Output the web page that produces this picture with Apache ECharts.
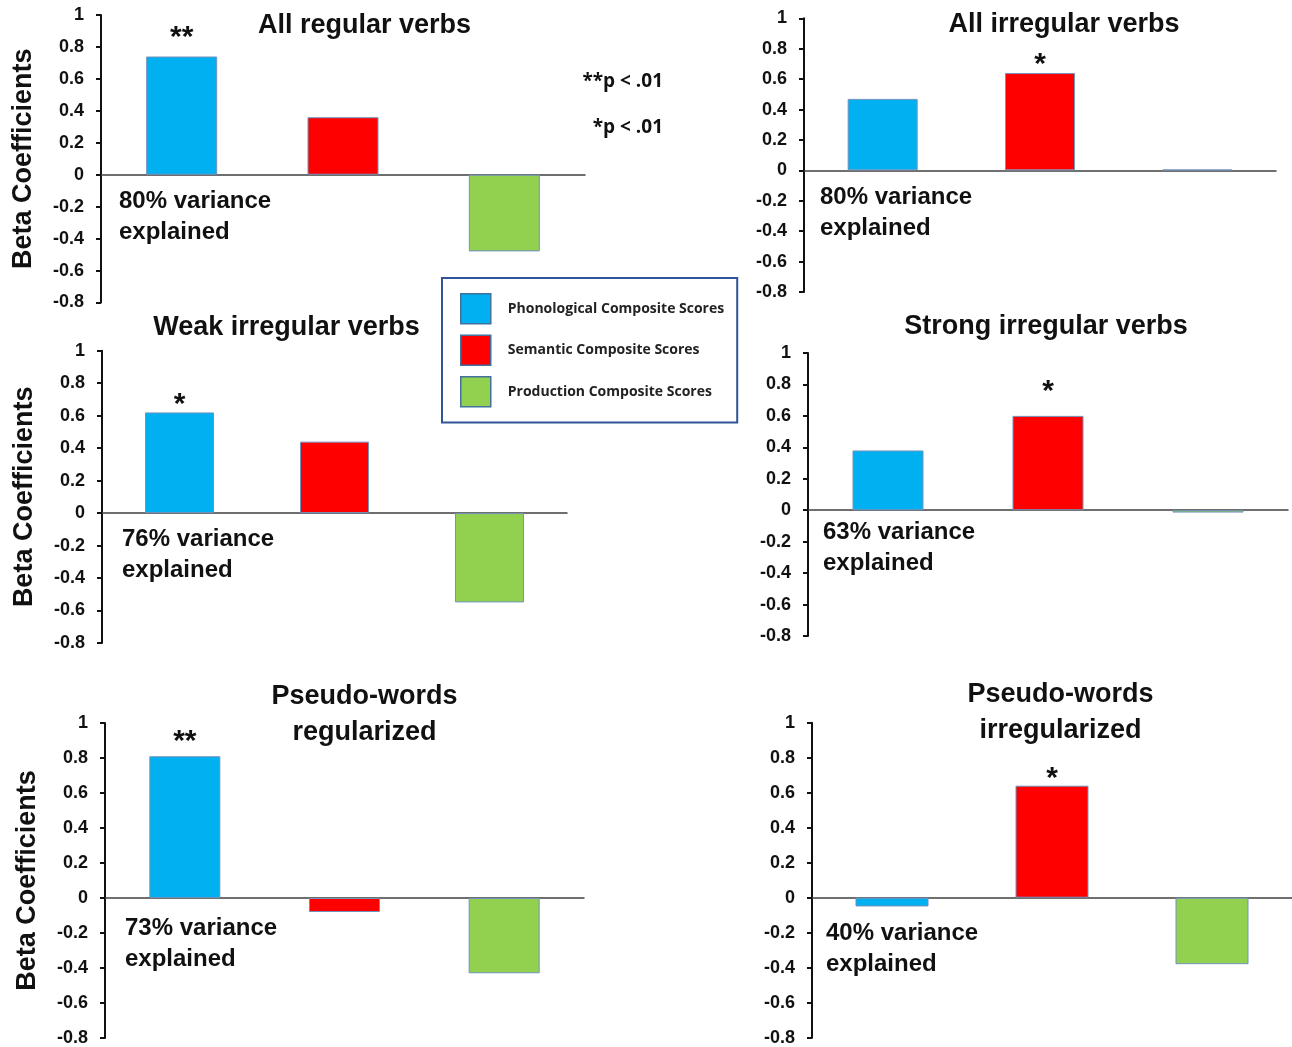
<!DOCTYPE html>
<html>
<head>
<meta charset="utf-8">
<script src="https://cdn.jsdelivr.net/npm/echarts@6/dist/echarts.min.js"></script>
<style>
  html, body { margin: 0; padding: 0; background: #fff; }
  #chart { width: 1292px; height: 1047px; }
</style>
</head>
<body>
<div id="chart"></div>
<script>
// ---------- data ----------
const categories = ['Phonological Composite Scores', 'Semantic Composite Scores', 'Production Composite Scores'];
const panelTitles = ['All regular verbs', 'All irregular verbs', 'Weak irregular verbs', 'Strong irregular verbs', 'Pseudo-words\nregularized', 'Pseudo-words\nirregularized'];
const allRegular          = [0.74, 0.36, -0.48];
const allIrregular        = [0.47, 0.64, 0.005];
const weakIrregular       = [0.62, 0.44, -0.55];
const strongIrregular     = [0.38, 0.60, -0.015];
const pseudoRegularized   = [0.81, -0.08, -0.43];
const pseudoIrregularized = [-0.05, 0.64, -0.38];
const allRegularSig          = ['**', '', ''];
const allIrregularSig        = ['', '*', ''];
const weakIrregularSig       = ['*', '', ''];
const strongIrregularSig     = ['', '*', ''];
const pseudoRegularizedSig   = ['**', '', ''];
const pseudoIrregularizedSig = ['', '*', ''];
const varianceExplained = ['80%', '80%', '76%', '63%', '73%', '40%'];
const pValueNotes = ['**p < .01', '*p < .01'];
const yMin = -0.8, yMax = 1, yInterval = 0.2;

const panelValues = [allRegular, allIrregular, weakIrregular, strongIrregular, pseudoRegularized, pseudoIrregularized];
const panelSig = [allRegularSig, allIrregularSig, weakIrregularSig, strongIrregularSig, pseudoRegularizedSig, pseudoIrregularizedSig];

// ---------- layout / style ----------
const colors = ['#00B0F0', '#FF0000', '#92D050'];
const layout = [
  { left: 101, top: 15,    width: 484, height: 287.5, bw: 71, title: [364.5, 26],  tlh: 36, varXY: [119, 217],  star: -4, yName: true },
  { left: 804, top: 18.3,  width: 472, height: 273.7, bw: 70, title: [1064, 25],   tlh: 36, varXY: [820, 213],  star: 7,  yName: false },
  { left: 102, top: 350.7, width: 465, height: 292.3, bw: 69, title: [286.5, 328], tlh: 36, varXY: [122, 555],  star: 7,  yName: true },
  { left: 808, top: 353,   width: 480, height: 283,   bw: 71, title: [1046, 327],  tlh: 36, varXY: [823, 548],  star: -9, yName: false },
  { left: 105, top: 723,   width: 479, height: 315,   bw: 71, title: [364.5, 715], tlh: 36, varXY: [125, 944],  star: 0,  yName: true },
  { left: 812, top: 722.7, width: 496, height: 315,   bw: 73, title: [1060.5, 713],tlh: 36, varXY: [826, 949],  star: 8,  yName: false }
];
const FONT = '"Liberation Sans", Arial, sans-serif';
const LFONT = '"Open Sans", "Noto Sans", sans-serif';

const grid = [], xAxis = [], yAxis = [], series = [], graphic = [];

layout.forEach((L, g) => {
  grid.push({ left: L.left, top: L.top, width: L.width, height: L.height, containLabel: false });
  xAxis.push({
    type: 'category', gridIndex: g, data: categories,
    axisLine: { onZero: true, lineStyle: { color: '#404040', width: 1.5 } },
    axisTick: { show: false }, axisLabel: { show: false }, splitLine: { show: false }
  });
  yAxis.push({
    type: 'value', gridIndex: g, min: yMin, max: yMax, interval: yInterval,
    name: L.yName ? 'Beta Coefficients' : '',
    nameLocation: 'middle', nameRotate: 90, nameGap: 64,
    nameTextStyle: { fontFamily: FONT, fontWeight: 'bold', fontSize: 27, color: '#111' },
    axisLine: { show: true, lineStyle: { color: '#111', width: 2 } },
    axisTick: { show: true, length: 5, lineStyle: { color: '#111', width: 2 } },
    axisLabel: { margin: 17, fontFamily: FONT, fontWeight: 'bold', fontSize: 18, color: '#111' },
    splitLine: { show: false }
  });
  categories.forEach((name, k) => {
    series.push({
      type: 'bar', name: name, xAxisIndex: g, yAxisIndex: g, stack: 'p' + g,
      barWidth: L.bw,
      itemStyle: { color: colors[k], borderColor: '#7193bd', borderWidth: 1 },
      data: panelValues[g].map((v, i) => {
        if (i !== k) return '-';
        const s = panelSig[g][i];
        return s ? {
          value: v,
          label: { show: true, formatter: s, position: 'top', distance: 0, offset: [0, L.star],
                   fontFamily: FONT, fontWeight: 'bold', fontSize: 30, color: '#111' }
        } : v;
      })
    });
  });
  graphic.push({
    type: 'text', x: L.title[0], y: L.title[1],
    style: { text: panelTitles[g], font: 'bold 27px ' + FONT, fill: '#111',
             align: 'center', verticalAlign: 'middle', textAlign: 'center', textVerticalAlign: 'middle', lineHeight: L.tlh }
  });
  graphic.push({
    type: 'text', x: L.varXY[0], y: L.varXY[1],
    style: { text: varianceExplained[g] + ' variance\nexplained', font: 'bold 24px ' + FONT, fill: '#111',
             align: 'left', verticalAlign: 'middle', textAlign: 'left', textVerticalAlign: 'middle', lineHeight: 31 }
  });
});

graphic.push({
  type: 'text', x: 663, y: 82,
  style: { text: pValueNotes[0], font: 'bold 19px ' + LFONT, fill: '#111', align: 'right', verticalAlign: 'middle', textAlign: 'right', textVerticalAlign: 'middle' }
});
graphic.push({
  type: 'text', x: 663, y: 128,
  style: { text: pValueNotes[1], font: 'bold 19px ' + LFONT, fill: '#111', align: 'right', verticalAlign: 'middle', textAlign: 'right', textVerticalAlign: 'middle' }
});

const chart = echarts.init(document.getElementById('chart'), null, { renderer: 'canvas' });
chart.setOption({
  animation: false,
  backgroundColor: '#fff',
  grid, xAxis, yAxis, series, graphic,
  legend: {
    data: categories, orient: 'vertical', left: 442, top: 278,
    padding: [15, 13, 15, 18], itemGap: 10, itemWidth: 30, itemHeight: 30,
    icon: 'rect', borderColor: '#2F5597', borderWidth: 2, backgroundColor: '#fff',
    selectedMode: false,
    itemStyle: { borderColor: '#41719c', borderWidth: 1.5 },
    textStyle: { fontFamily: LFONT, fontWeight: 'bold', fontSize: 14, color: '#222', padding: [0, 0, 0, 12] }
  }
});
</script>
</body>
</html>
